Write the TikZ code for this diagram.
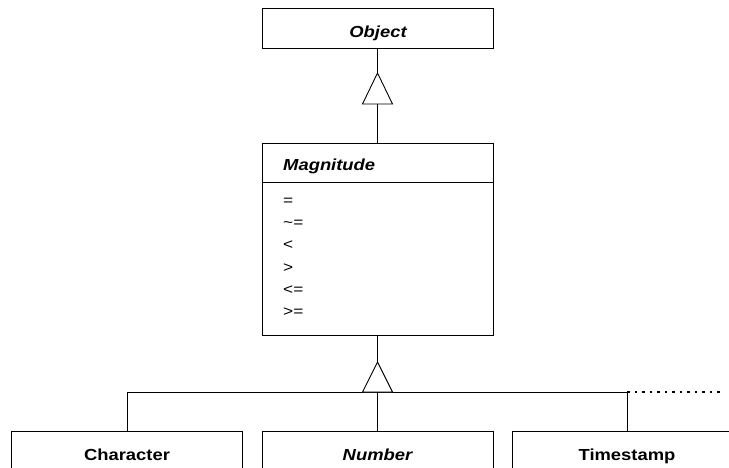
\documentclass[tikz,border=0pt]{standalone}
\usepackage{fontspec}
\setmainfont{Liberation Sans}
\newcommand{\stretchtxt}[1]{\scalebox{1.15}[1]{#1}}
\begin{document}
\begin{tikzpicture}[x=1pt,y=-1pt,
  box/.style={draw=black,line width=0.9pt,fill=white},
  lbl/.style={font=\fontsize{16}{19}\selectfont\bfseries,inner sep=0pt,anchor=base},
  ilbl/.style={font=\fontsize{16}{19}\selectfont\bfseries\itshape,inner sep=0pt,anchor=base},
  op/.style={font=\fontsize{15}{18}\selectfont,inner sep=0pt,anchor=base west},
  conn/.style={draw=black,line width=0.9pt},
  tri/.style={draw=black,line width=0.9pt,fill=white}]
\useasboundingbox (0,0) rectangle (729,468);
\clip (0,0) rectangle (729,468);
% Object
\draw[box] (262,8) rectangle (493,48);
\coordinate (objbot) at (377.5,48);
\node[ilbl] (objt) at (378,38) {\stretchtxt{Object}};
% top triangle
\coordinate (t1apex) at (377.5,73);
\coordinate (t1base) at (377.5,104);
\draw[tri] (t1apex) -- (362.5,104) -- (392.5,104) -- cycle;
% Magnitude
\draw[box] (262,143) rectangle (493,335);
\draw[conn] (262,182) -- (493,182);
\coordinate (magtop) at (377.5,143);
\coordinate (magbot) at (377.5,335);
\node[ilbl,anchor=base west] (magt) at (283,171) {\stretchtxt{Magnitude}};
\node[op] (o1) at (283,205.5) {\stretchtxt{=}};
\node[op] (o2) at (283,227.7) {\stretchtxt{\char`\~=}};
\node[op] (o3) at (283,250) {\stretchtxt{<}};
\node[op] (o4) at (283,272.2) {\stretchtxt{>}};
\node[op] (o5) at (283,294.4) {\stretchtxt{<=}};
\node[op] (o6) at (283,316.7) {\stretchtxt{>=}};
\draw[conn] (objbot) -- (t1apex);
\draw[conn] (t1base) -- (magtop);
% bottom triangle and tree
\coordinate (t2apex) at (377.5,362);
\coordinate (t2base) at (377.5,392);
\coordinate (hl) at (127,392);
\coordinate (hr) at (627,392);
\coordinate (dotend) at (724,392);
\draw[conn] (magbot) -- (t2apex);
\draw[conn] (hl) -- (hr);
\draw[tri] (t2apex) -- (362.5,392) -- (392.5,392) -- cycle;
\draw[conn,line width=1.4pt,dash pattern=on 2.5pt off 5pt] (hr) -- (dotend);
% subclasses
\draw[box] (11,431) rectangle (242,490);
\draw[box] (262,431) rectangle (493,490);
\draw[box] (512,431) rectangle (743,490);
\coordinate (c1) at (127,431);
\coordinate (c2) at (377.5,431);
\coordinate (c3) at (627,431);
\draw[conn] (hl) -- (c1);
\draw[conn] (t2base) -- (c2);
\draw[conn] (hr) -- (c3);
\node[lbl] (chr) at (127,460.5) {\stretchtxt{Character}};
\node[ilbl] (num) at (377.5,460.5) {\stretchtxt{Number}};
\node[lbl] (ts) at (627,460.5) {\stretchtxt{Timestamp}};
\end{tikzpicture}
\end{document}
